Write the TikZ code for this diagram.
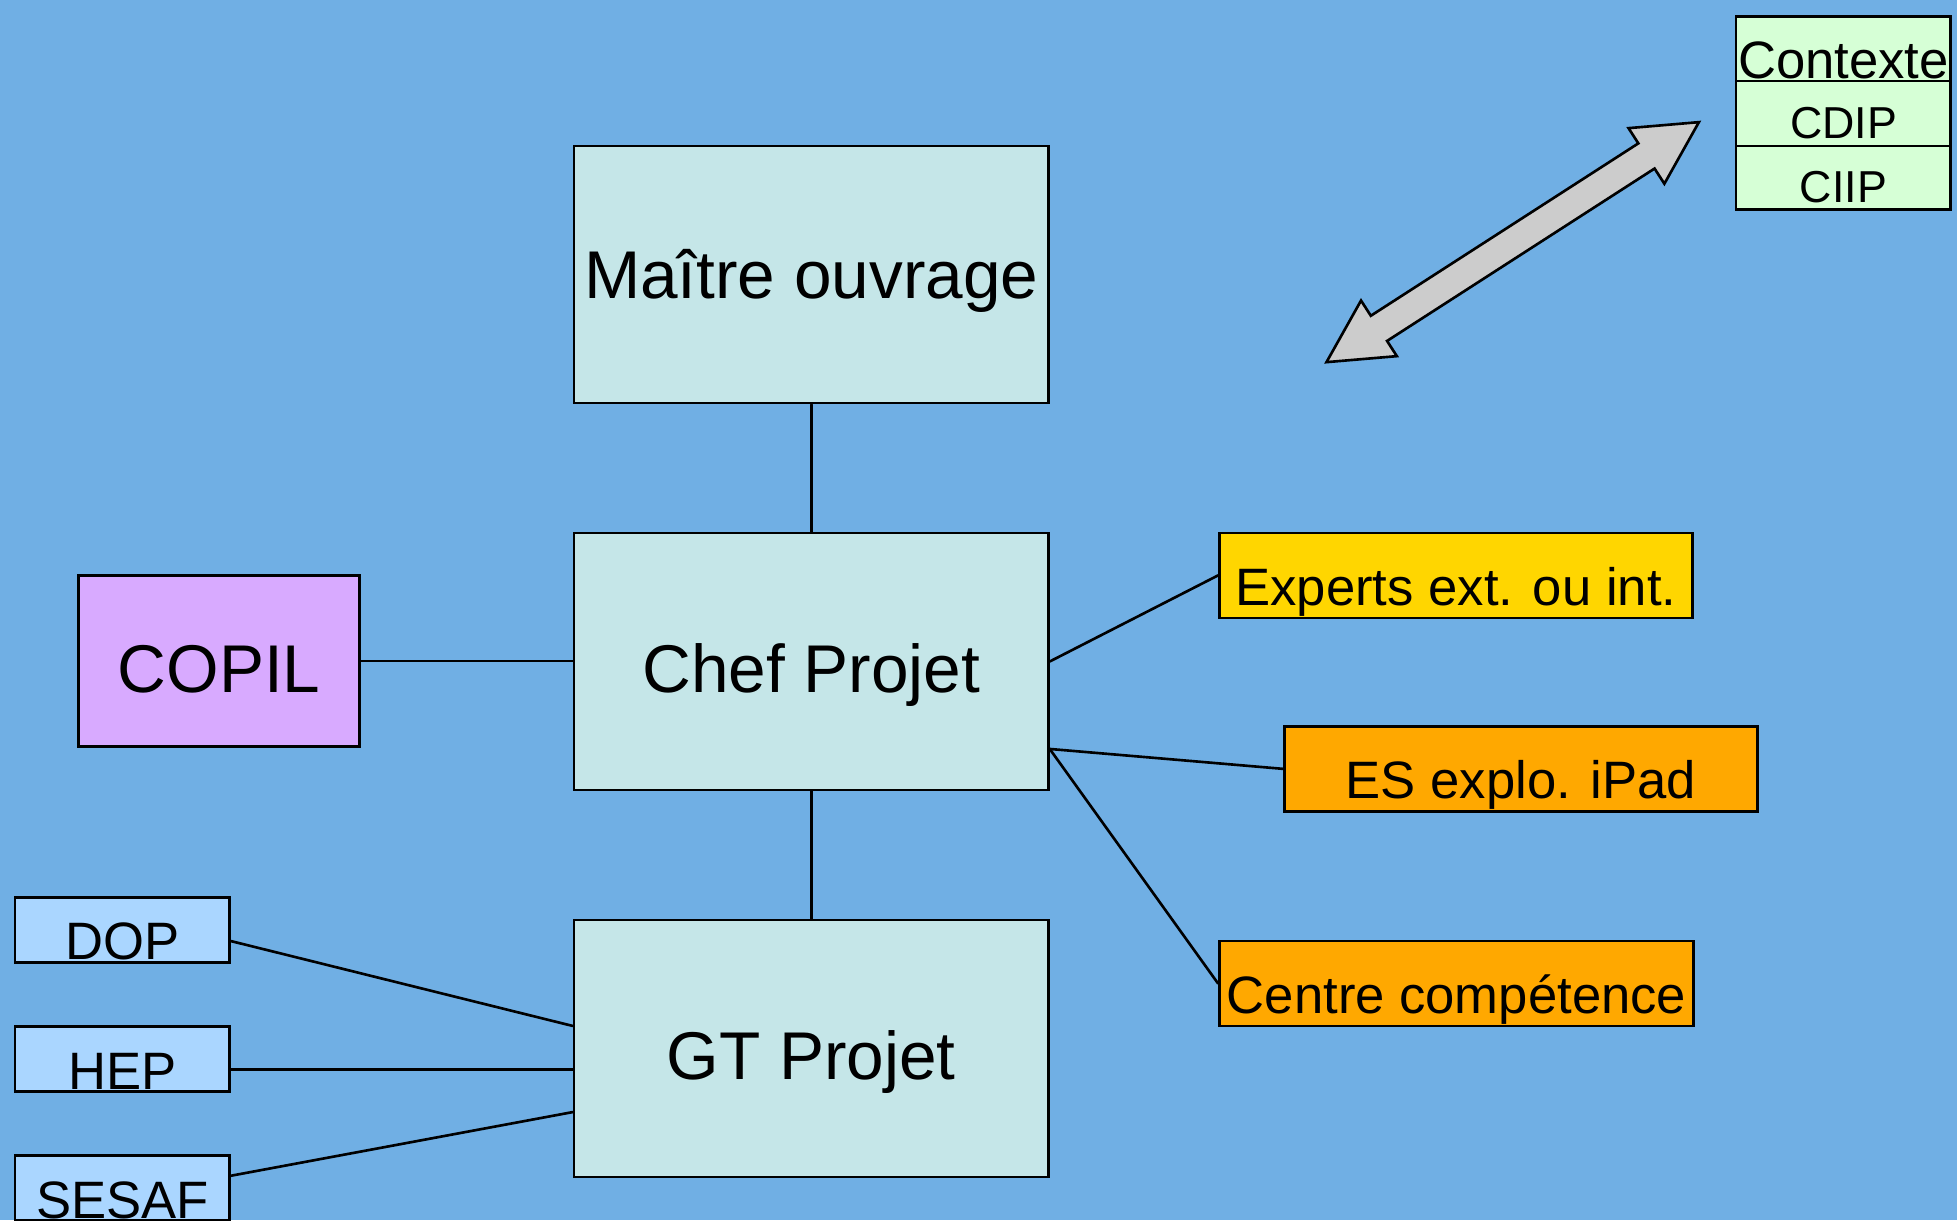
\documentclass[tikz,border=0pt]{standalone}
\usepackage{fontspec}
\setmainfont{Liberation Sans}
\usepackage{tikz}
\usetikzlibrary{positioning}

\begin{document}
\begin{tikzpicture}
			[line cap=round,
			%Styles
			box/.style={draw,line width=0.6pt,rectangle,inner sep=0pt,text depth=0pt},
			main box/.style={box,fill=mainfill,minimum width=3.8cm,minimum height=2.06cm,
				font=\fontsize{15.4}{18}\selectfont,text height=14.2pt},
			side box/.style={box,minimum width=3.79cm,minimum height=0.68cm,
				font=\fontsize{12}{14}\selectfont,text height=13.7pt},
			unit box/.style={box,fill=unitfill,minimum width=1.72cm,minimum height=0.52cm,
				font=\fontsize{12}{14}\selectfont,text height=13.7pt},
			table row/.style={box,fill=tablefill,outer sep=0pt,minimum width=1.72cm,minimum height=0.52cm,
				font=\fontsize{10.2}{12}\selectfont,text height=11.2pt},
			link/.style={line width=0.6pt},
			big arrow/.style={draw,line width=0.6pt,fill=arrowfill,line join=miter}
			]
			
			%Colors
			\definecolor{bgblue}{RGB}{112,175,228}
			\definecolor{mainfill}{RGB}{197,230,232}
			\definecolor{copilfill}{RGB}{216,170,255}
			\definecolor{unitfill}{RGB}{170,214,255}
			\definecolor{expertfill}{RGB}{255,214,0}
			\definecolor{orangefill}{RGB}{255,168,0}
			\definecolor{tablefill}{RGB}{214,255,214}
			\definecolor{arrowfill}{RGB}{204,204,204}
			
			%Background
			\useasboundingbox (0,0) rectangle (15.68,-9.775);
			\fill[bgblue] (0,0) rectangle (15.68,-9.775);
			
			%The graphic
			\node[main box,text height=11.1pt] (maitre) at (6.50,-2.20) {Maître ouvrage};
			\node[main box] (chef) at (6.50,-5.30) {Chef Projet};
			\node[main box] (gt) at (6.50,-8.40) {GT Projet};
			
			\node[main box,fill=copilfill,minimum width=2.25cm,minimum height=1.37cm] (copil) at (1.755,-5.295) {COPIL};
			
			\node[unit box] (dop) at (0.98,-7.45) {DOP};
			\node[unit box] (hep) at (0.98,-8.485) {HEP};
			\node[unit box] (sesaf) at (0.98,-9.52) {SESAF};
			
			\node[side box,fill=expertfill] (experts) at (11.665,-4.61) {Experts ext. ou int.};
			\node[side box,fill=orangefill] (es) at (12.185,-6.16) {ES explo. iPad};
			\node[side box,fill=orangefill,minimum width=3.8cm] (centre) at (11.67,-7.88) {Centre compétence};
			
			\node[table row,font=\fontsize{12}{14}\selectfont,text height=13.7pt] (contexte) at (14.77,-0.39) {\underline{Contexte}};
			\node[table row,below=0pt of contexte] (cdip) {CDIP};
			\node[table row,below=0pt of cdip,minimum height=0.51cm] (ciip) {CIIP};
			
			\begin{scope}[shift={(12.12,-1.94)},rotate=32.8]
				\draw[big arrow] (-1.775,0) -- (-1.275,0.265) -- (-1.275,0.12) -- (1.275,0.12)
					-- (1.275,0.265) -- (1.775,0) -- (1.275,-0.265) -- (1.275,-0.12)
					-- (-1.275,-0.12) -- (-1.275,-0.265) -- cycle;
			\end{scope}
			
			\draw[link] (maitre) -- (chef);
			\draw[link] (chef) -- (gt);
			\draw[link] (copil.east) -- (copil.east -| chef.west);
			
			\coordinate (chef out) at ([yshift=0.34cm]chef.south east);
			\draw[link] (chef.east) -- (experts.west);
			\draw[link] (chef out) -- (es.west);
			\draw[link] (chef out) -- (centre.west);
			
			\draw[link] ([yshift=-0.09cm]dop.east) -- ([yshift=0.18cm]gt.west);
			\draw[link] ([yshift=-0.085cm]hep.east) -- ([yshift=-0.085cm]hep.east -| gt.west);
			\draw[link] ([yshift=0.10cm]sesaf.east) -- ([yshift=-0.51cm]gt.west);
		\end{tikzpicture}
\end{document}
